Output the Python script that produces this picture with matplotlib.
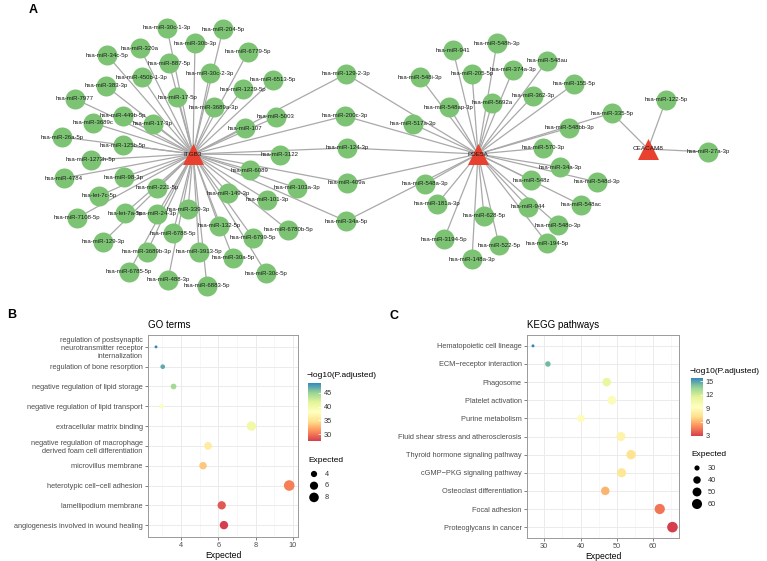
import numpy as np
import matplotlib
matplotlib.use("Agg")
import matplotlib.pyplot as plt
from matplotlib.colors import LinearSegmentedColormap, Normalize
from matplotlib.cm import ScalarMappable

plt.rcParams['font.family'] = ['Liberation Sans', 'DejaVu Sans']

W, H = 767, 561

# ---- panel A: gene / miRNA network (layout positions, pixel space) ----
genes = ["ITGB3", "PDE5A", "CEACAM8"]
gene_x = [193, 478, 648]
gene_y = [154, 154, 149]

mirnas = [
    "hsa-miR-30c-1-3p", "hsa-miR-204-5p", "hsa-miR-320a", "hsa-miR-30b-3p",
    "hsa-miR-6779-5p", "hsa-miR-34c-5p", "hsa-miR-887-5p", "hsa-miR-30c-2-3p",
    "hsa-miR-450b-1-3p", "hsa-miR-6513-5p", "hsa-miR-383-3p", "hsa-miR-1229-5p",
    "hsa-miR-17-5p", "hsa-miR-7977", "hsa-miR-3689a-3p", "hsa-miR-449b-5p",
    "hsa-miR-5003", "hsa-miR-3689c", "hsa-miR-17-3p", "hsa-miR-107",
    "hsa-miR-26a-5p", "hsa-miR-125b-5p", "hsa-miR-3122", "hsa-miR-1273h-5p",
    "hsa-miR-6089", "hsa-miR-98-3p", "hsa-miR-4784", "hsa-miR-221-5p",
    "hsa-miR-103a-3p", "hsa-miR-149-3p", "hsa-let-7c-5p", "hsa-miR-101-3p",
    "hsa-miR-339-3p", "hsa-let-7a-5p", "hsa-miR-24-3p", "hsa-miR-7108-5p",
    "hsa-miR-132-5p", "hsa-miR-6780b-5p", "hsa-miR-6788-5p", "hsa-miR-6799-5p",
    "hsa-miR-129-3p", "hsa-miR-3689b-3p", "hsa-miR-3913-5p", "hsa-miR-30a-5p",
    "hsa-miR-6785-5p", "hsa-miR-30c-5p", "hsa-miR-488-3p", "hsa-miR-6883-5p",
    "hsa-miR-129-2-3p", "hsa-miR-200c-3p", "hsa-miR-124-3p", "hsa-miR-409a",
    "hsa-miR-34a-5p",
    "hsa-miR-548h-3p", "hsa-miR-941", "hsa-miR-548au", "hsa-miR-374a-3p",
    "hsa-miR-205-5p", "hsa-miR-548i-3p", "hsa-miR-155-5p", "hsa-miR-362-3p",
    "hsa-miR-5692a", "hsa-miR-548ap-3p", "hsa-miR-517a-3p", "hsa-miR-548bb-3p",
    "hsa-miR-570-3p", "hsa-miR-34a-3p", "hsa-miR-548z", "hsa-miR-548a-3p",
    "hsa-miR-181a-3p", "hsa-miR-944", "hsa-miR-548ac", "hsa-miR-548d-3p",
    "hsa-miR-628-5p", "hsa-miR-548o-3p", "hsa-miR-3194-5p", "hsa-miR-194-5p",
    "hsa-miR-522-5p", "hsa-miR-148a-3p",
    "hsa-miR-335-5p", "hsa-miR-122-5p", "hsa-miR-27a-3p",
]
mirna_x = [
    167, 223, 140, 195, 248, 107, 169, 210, 142, 273, 106, 243,
    177, 75, 214, 123, 276, 93, 153, 245, 62, 123, 280, 91,
    250, 124, 64, 157, 297, 228, 99, 267, 188, 125, 157, 77,
    219, 288, 173, 253, 103, 147, 199, 233, 129, 266, 168, 207,
    346, 345, 347, 347, 346,
    497, 453, 547, 513, 472, 420, 574, 533, 492, 449, 413, 569,
    543, 560, 531, 425, 437, 528, 581, 597, 484, 558, 444, 547,
    499, 472,
    612, 666, 708,
]
mirna_y = [
    28, 29, 48, 43, 52, 55, 63, 73, 77, 80, 86, 89,
    97, 99, 107, 116, 117, 123, 124, 128, 137, 145, 155, 160,
    170, 177, 178, 188, 188, 193, 196, 200, 209, 213, 214, 218,
    226, 230, 233, 238, 242, 252, 252, 258, 272, 273, 280, 286,
    74, 116, 148, 183, 221,
    43, 50, 61, 70, 74, 77, 84, 96, 103, 107, 124, 128,
    148, 167, 180, 184, 204, 207, 205, 182, 216, 225, 239, 243,
    245, 259,
    113, 100, 152,
]
mirna_targets = (["ITGB3"] * 48 + ["ITGB3;PDE5A"] * 5 + ["PDE5A"] * 26
                 + ["PDE5A;CEACAM8", "CEACAM8", "CEACAM8"])

# ---- panel B: GO terms ----
go_terms = ["regulation of postsynaptic\nneurotransmitter receptor\ninternalization",
            "regulation of bone resorption",
            "negative regulation of lipid storage",
            "negative regulation of lipid transport",
            "extracellular matrix binding",
            "negative regulation of macrophage\nderived foam cell differentiation",
            "microvillus membrane",
            "heterotypic cell\u2212cell adhesion",
            "lamellipodium membrane",
            "angiogenesis involved in wound healing"]
go_expected = [2.66, 3.02, 3.6, 2.94, 7.77, 5.45, 5.18, 9.8, 6.18, 6.3]
go_logp = [48.5, 47.0, 44.5, 38.5, 40.0, 36.0, 33.5, 30.5, 28.8, 27.6]
go_size_breaks = [4, 6, 8]
go_color_ticks = [30, 35, 40, 45]

# ---- panel C: KEGG pathways ----
kegg_terms = ["Hematopoietic cell lineage", "ECM\u2212receptor interaction",
              "Phagosome", "Platelet activation", "Purine metabolism",
              "Fluid shear stress and atherosclerosis",
              "Thyroid hormone signaling pathway", "cGMP\u2212PKG signaling pathway",
              "Osteoclast differentiation", "Focal adhesion", "Proteoglycans in cancer"]
kegg_expected = [26.9, 31.0, 47.2, 48.6, 40.1, 51.1, 53.9, 51.3, 46.8, 61.8, 65.3]
kegg_logp = [15.7, 14.3, 11.0, 9.7, 9.0, 8.4, 7.4, 7.6, 6.0, 4.4, 2.9]
kegg_size_breaks = [30, 40, 50, 60]
kegg_color_ticks = [3, 6, 9, 12, 15]

spectral7 = ['#D53E4F', '#FC8D59', '#FEE08B', '#FFFFBF', '#E6F598', '#99D594', '#3288BD']
cmap = LinearSegmentedColormap.from_list('spectral7', spectral7)


def px(x0, y0, w, h):
    # pixel box (top-left origin) -> figure fraction rect
    return [x0 / W, 1 - (y0 + h) / H, w / W, h / H]


def point_area(v, vmin, vmax, dmin, dmax):
    # area-like size scale, diameters given in px
    r = np.clip((np.asarray(v, dtype=float) - vmin) / (vmax - vmin), 0, 1)
    d = dmin + (dmax - dmin) * np.sqrt(r)
    return (d * 0.72) ** 2


fig = plt.figure(figsize=(W / 100, H / 100), dpi=100)

# network
net = fig.add_axes(px(0, 0, W, 300))
net.set_xlim(0, W)
net.set_ylim(300, 0)
net.axis('off')
gpos = {g: (x, y) for g, x, y in zip(genes, gene_x, gene_y)}
for x, y, tg in zip(mirna_x, mirna_y, mirna_targets):
    for g in tg.split(';'):
        gx, gy = gpos[g]
        net.plot([gx, x], [gy, y], color='#a9a9a9', lw=0.9, zorder=1)
net.scatter(mirna_x, mirna_y, s=(20 * 0.72) ** 2, color='#7cc474', linewidths=0, zorder=2)
net.scatter(gene_x, gene_y, s=(21 * 0.72) ** 2, marker='^', color='#e8412f',
            linewidths=0, zorder=3)
for name, x, y in zip(mirnas, mirna_x, mirna_y):
    net.text(x, y, name, fontsize=4.3, ha='center', va='center', color='#1a1a1a', zorder=4)
for name, x, y in zip(genes, gene_x, gene_y):
    net.text(x, y, name, fontsize=4.6, ha='center', va='center', color='#1a1a1a', zorder=4)


def dotplot(rect, terms, expected, logp, xlim, xticks, xminor, dsz, title):
    ax = fig.add_axes(rect)
    n = len(terms)
    ys = np.arange(1, n + 1)
    ax.scatter(expected, ys, s=point_area(expected, min(expected), max(expected), *dsz),
               c=logp, cmap=cmap, vmin=min(logp), vmax=max(logp), linewidths=0, zorder=3)
    ax.set_xlim(*xlim)
    ax.set_ylim(n + 0.6, 0.4)
    ax.set_yticks(ys)
    ax.set_yticklabels(terms)
    ax.set_xticks(xticks)
    ax.set_xticks(xminor, minor=True)
    ax.set_axisbelow(True)
    ax.grid(which='major', color='#ebebeb', lw=0.7)
    ax.grid(which='minor', axis='x', color='#f2f2f2', lw=0.4)
    for s in ax.spines.values():
        s.set_color('#9a9a9a')
        s.set_linewidth(0.7)
    ax.tick_params(which='major', labelsize=5.3, labelcolor='#4d4d4d', color='#4d4d4d',
                   length=2.2, width=0.5, pad=1.5)
    ax.tick_params(which='minor', length=0)
    ax.set_xlabel("Expected", fontsize=6.2, labelpad=1.5)
    ax.set_title(title, fontsize=7, loc='left', pad=5)
    return ax


go_dsz = (2.9, 10.6)
kegg_dsz = (3.0, 10.6)

dotplot(px(148, 335, 150, 202), go_terms, go_expected, go_logp,
        (2.23, 10.27), [4, 6, 8, 10], [3, 5, 7, 9], go_dsz, "GO terms")
dotplot(px(527, 335, 152, 203), kegg_terms, kegg_expected, kegg_logp,
        (25.25, 67.1), [30, 40, 50, 60], [35, 45, 55, 65], kegg_dsz, "KEGG pathways")


def colorbar(rect, logp, ticks):
    cax = fig.add_axes(rect)
    sm = ScalarMappable(norm=Normalize(min(logp), max(logp)), cmap=cmap)
    cb = fig.colorbar(sm, cax=cax)
    cb.outline.set_visible(False)
    cb.set_ticks(ticks)
    cax.tick_params(labelsize=5.3, labelcolor='#333333', color='white', length=2,
                    width=0.5, direction='in', pad=2)


colorbar(px(308, 383, 13, 58), go_logp, go_color_ticks)
colorbar(px(691, 378, 12, 58), kegg_logp, kegg_color_ticks)

# overlay for legend keys and panel letters
ov = fig.add_axes([0, 0, 1, 1])
ov.set_xlim(0, W)
ov.set_ylim(H, 0)
ov.axis('off')

ov.text(33, 10, "A", fontsize=9, fontweight='bold', ha='center', va='center')
ov.text(12, 315, "B", fontsize=9, fontweight='bold', ha='center', va='center')
ov.text(394, 316, "C", fontsize=9, fontweight='bold', ha='center', va='center')

ov.text(307, 375, "\u2212log10(P.adjusted)", fontsize=6, ha='left', va='center')
ov.text(690, 371, "\u2212log10(P.adjusted)", fontsize=6, ha='left', va='center')


def size_legend(x0, y0, step, breaks, data, dsz):
    ov.text(x0 - 6, y0 - 14, "Expected", fontsize=6, ha='left', va='center')
    ys = y0 + step * np.arange(len(breaks))
    ov.scatter([x0] * len(breaks), ys, s=point_area(breaks, min(data), max(data), *dsz),
               color='black', linewidths=0)
    for b, y in zip(breaks, ys):
        ov.text(x0 + 11, y, str(b), fontsize=5.3, color='#333333', ha='left', va='center')


size_legend(314, 474, 11.7, go_size_breaks, go_expected, go_dsz)
size_legend(697, 468, 12, kegg_size_breaks, kegg_expected, kegg_dsz)

fig.savefig("out.png", dpi=100)
